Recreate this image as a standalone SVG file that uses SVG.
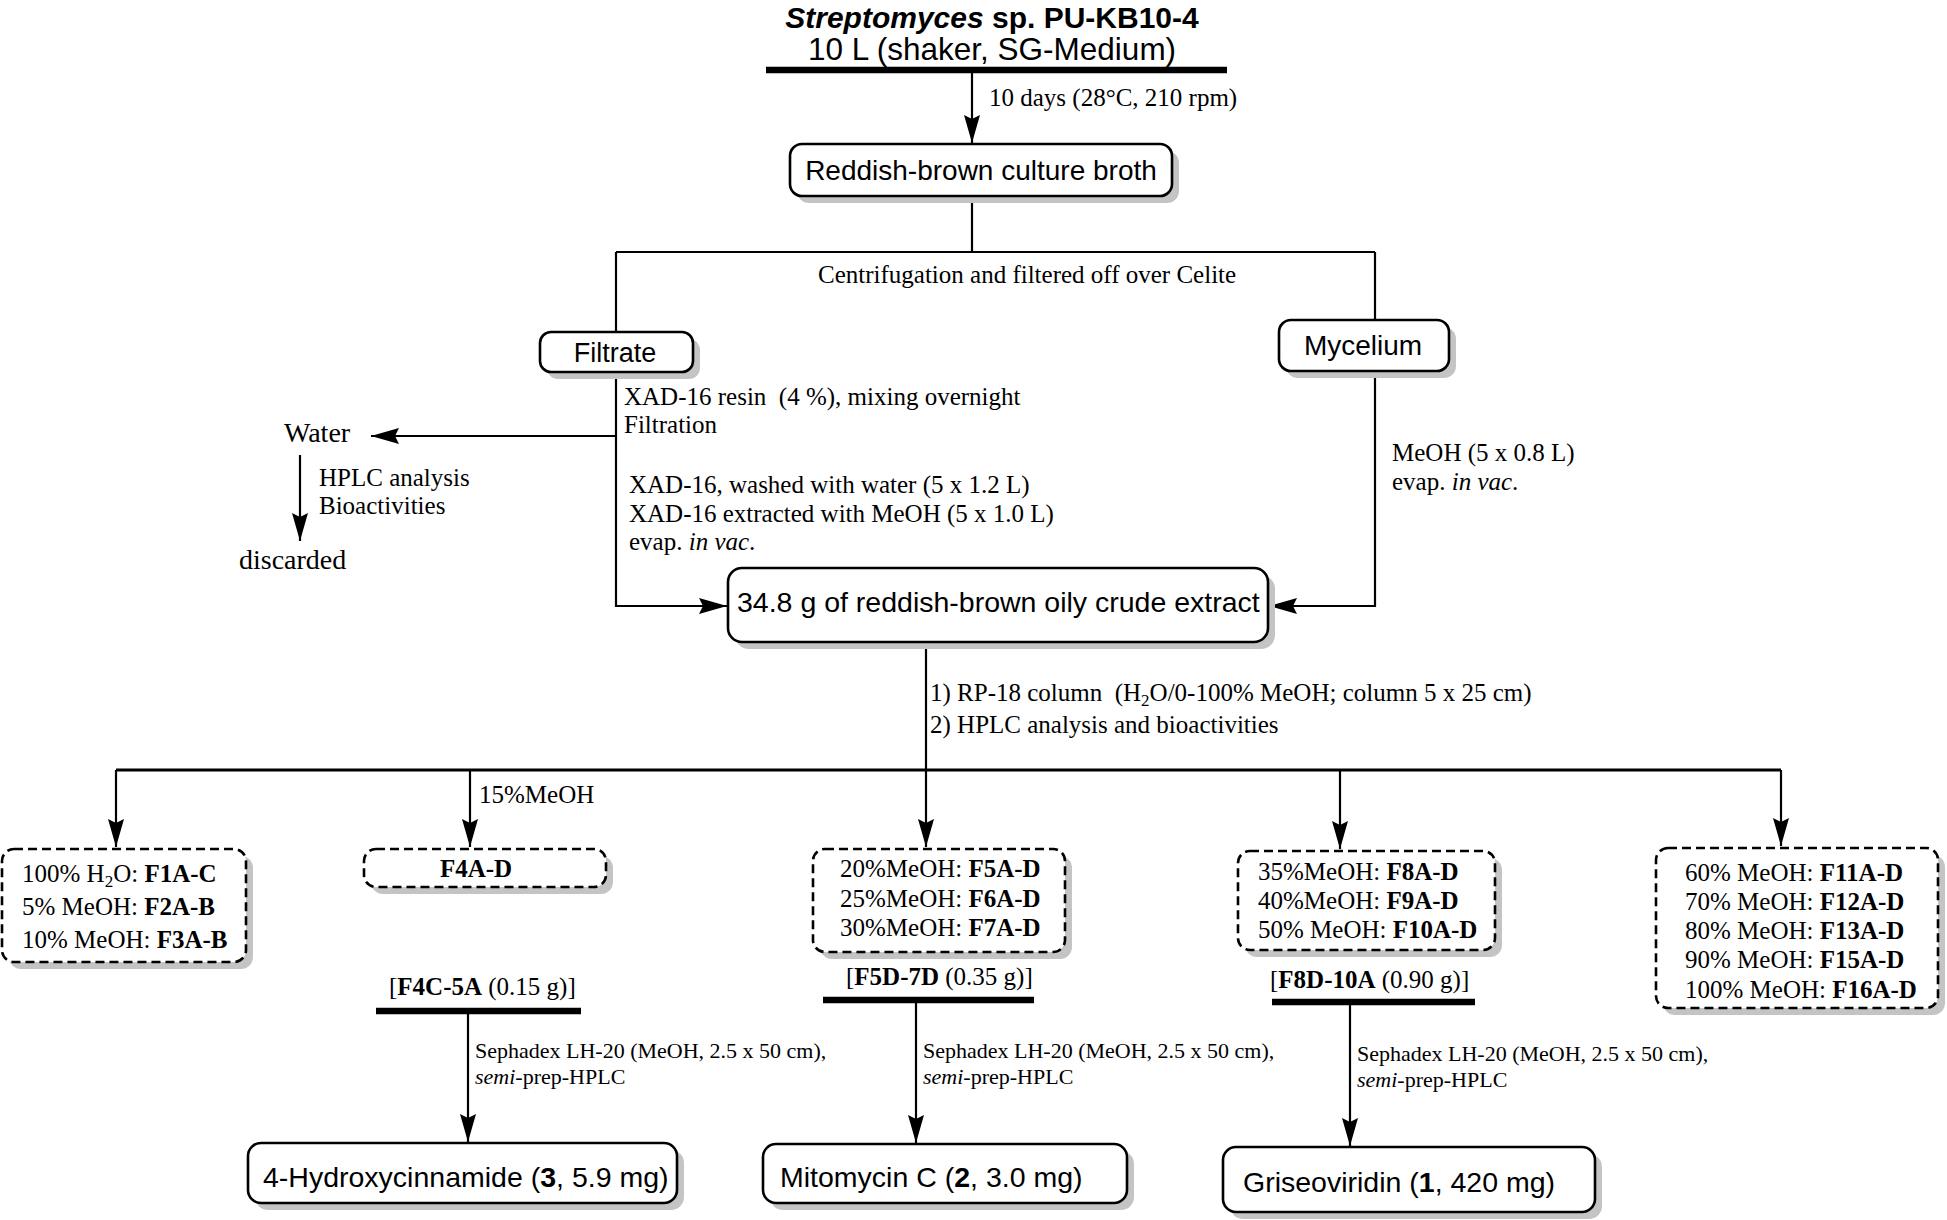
<svg xmlns="http://www.w3.org/2000/svg" width="1947" height="1220" viewBox="0 0 1947 1220">
<style>
.bg{fill:#ffffff}
.sh{fill:#c4c4c4;stroke:none}
.box{fill:#ffffff;stroke:#000;stroke-width:2.6}
.dbox{fill:#ffffff;stroke:#000;stroke-width:2.6;stroke-dasharray:9 5}
.ln{fill:none;stroke:#000;stroke-width:2.2}
.ln3{fill:none;stroke:#000;stroke-width:3}
.bar{fill:none;stroke:#000;stroke-width:6.5}
.arr{marker-end:url(#ah)}
.s{font-family:"Liberation Sans",Arial,Helvetica,sans-serif;fill:#000}
.t{font-family:"Liberation Serif","Times New Roman",serif;font-size:25px;fill:#000}
.tl{font-family:"Liberation Serif","Times New Roman",serif;font-size:28px;fill:#000}
.ts{font-family:"Liberation Serif","Times New Roman",serif;font-size:22px;fill:#000}
.b{font-weight:bold}
.i{font-style:italic}
</style>
<defs>
<marker id="ah" markerUnits="userSpaceOnUse" markerWidth="28" markerHeight="16" refX="28" refY="8" orient="auto">
<path d="M0,0 L28,8 L0,16 L4,8 Z" fill="#000"/>
</marker>
</defs>
<rect class="bg" x="0" y="0" width="1947" height="1220"/>

<g id="connectors">
<line class="bar" x1="766" y1="70" x2="1227" y2="70"/>
<line class="ln arr" x1="972" y1="73" x2="972" y2="143"/>
<line class="ln" x1="972" y1="196" x2="972" y2="252"/>
<line class="ln" x1="616" y1="252" x2="1375" y2="252"/>
<line class="ln" x1="616" y1="252" x2="616" y2="332"/>
<line class="ln" x1="1375" y1="252" x2="1375" y2="320"/>
<polyline class="ln arr" points="616,372 616,606 727,606"/>
<line class="ln arr" x1="616" y1="436" x2="371" y2="436"/>
<line class="ln arr" x1="300" y1="455" x2="300" y2="541"/>
<polyline class="ln arr" points="1375,371 1375,606 1269,606"/>
<line class="ln" x1="926" y1="642" x2="926" y2="770"/>
<line class="ln3" x1="116" y1="770" x2="1781" y2="770"/>
<line class="ln arr" x1="116" y1="770" x2="116" y2="847"/>
<line class="ln arr" x1="470" y1="770" x2="470" y2="847"/>
<line class="ln arr" x1="926" y1="770" x2="926" y2="847"/>
<line class="ln arr" x1="1340" y1="770" x2="1340" y2="849"/>
<line class="ln arr" x1="1781" y1="770" x2="1781" y2="846"/>
<line class="bar" x1="376" y1="1011" x2="581" y2="1011"/>
<line class="bar" x1="823" y1="1000" x2="1034" y2="1000"/>
<line class="bar" x1="1272" y1="1002" x2="1475" y2="1002"/>
<line class="ln arr" x1="468" y1="1011" x2="468" y2="1142"/>
<line class="ln arr" x1="916" y1="1000" x2="916" y2="1143"/>
<line class="ln arr" x1="1350" y1="1002" x2="1350" y2="1146"/>
</g>

<g id="labels">
<text class="t" x="989" y="106">10 days (28°C, 210 rpm)</text>
<text class="t" x="818" y="283">Centrifugation and filtered off over Celite</text>
<text class="t" x="624" y="405">XAD-16 resin&#160; (4 %), mixing overnight</text>
<text class="t" x="624" y="433">Filtration</text>
<text class="tl" x="284" y="442">Water</text>
<text class="t" x="319" y="486">HPLC analysis</text>
<text class="t" x="319" y="514">Bioactivities</text>
<text class="tl" x="239" y="569">discarded</text>
<text class="t" x="629" y="493">XAD-16, washed with water (5 x 1.2 L)</text>
<text class="t" x="629" y="522">XAD-16 extracted with MeOH (5 x 1.0 L)</text>
<text class="t" x="629" y="550">evap. <tspan class="i">in vac</tspan>.</text>
<text class="t" x="1392" y="461">MeOH (5 x 0.8 L)</text>
<text class="t" x="1392" y="490">evap. <tspan class="i">in vac</tspan>.</text>
<text class="t" x="930" y="701" font-size="25.3">1) RP-18 column&#160; (H<tspan dy="5" font-size="17">2</tspan><tspan dy="-5">O/0-100% MeOH; column 5 x 25 cm)</tspan></text>
<text class="t" x="930" y="733" font-size="25.3">2) HPLC analysis and bioactivities</text>
<text class="t" x="479" y="803">15%MeOH</text>
<text class="ts" x="475" y="1058">Sephadex LH-20 (MeOH, 2.5 x 50 cm),</text>
<text class="ts" x="475" y="1084"><tspan class="i">semi</tspan>-prep-HPLC</text>
<text class="ts" x="923" y="1058">Sephadex LH-20 (MeOH, 2.5 x 50 cm),</text>
<text class="ts" x="923" y="1084"><tspan class="i">semi</tspan>-prep-HPLC</text>
<text class="ts" x="1357" y="1061">Sephadex LH-20 (MeOH, 2.5 x 50 cm),</text>
<text class="ts" x="1357" y="1087"><tspan class="i">semi</tspan>-prep-HPLC</text>
</g>

<g id="title">
<text class="s b" x="992" y="28" font-size="30" text-anchor="middle"><tspan class="i">Streptomyces</tspan> sp. PU-KB10-4</text>
<text class="s" x="992" y="60" font-size="31.5" text-anchor="middle">10 L (shaker, SG-Medium)</text>
</g>

<g id="broth">
<rect class="sh" x="797" y="151" width="382" height="52" rx="12"/>
<rect class="box" x="790" y="144" width="382" height="52" rx="12"/>
<text class="s" x="981" y="180" font-size="28" text-anchor="middle">Reddish-brown culture broth</text>
</g>

<g id="filtrate">
<rect class="sh" x="547" y="339" width="153" height="40" rx="11"/>
<rect class="box" x="540" y="332" width="153" height="40" rx="11"/>
<text class="s" x="615" y="362" font-size="27" text-anchor="middle">Filtrate</text>
</g>

<g id="mycelium">
<rect class="sh" x="1286" y="327" width="170" height="51" rx="12"/>
<rect class="box" x="1279" y="320" width="170" height="51" rx="12"/>
<text class="s" x="1363" y="355" font-size="28" text-anchor="middle">Mycelium</text>
</g>

<g id="crude">
<rect class="sh" x="735" y="575" width="540" height="74" rx="14"/>
<rect class="box" x="728" y="568" width="540" height="74" rx="14"/>
<text class="s" x="737" y="612" font-size="28.5">34.8 g of reddish-brown oily crude extract</text>
</g>

<g id="frac1">
<rect class="sh" x="9" y="856" width="244" height="113" rx="12"/>
<rect class="dbox" x="2" y="849" width="244" height="113" rx="12"/>
<text class="t" x="22" y="882">100% H<tspan dy="5" font-size="17">2</tspan><tspan dy="-5">O: </tspan><tspan class="b">F1A-C</tspan></text>
<text class="t" x="22" y="915">5% MeOH: <tspan class="b">F2A-B</tspan></text>
<text class="t" x="22" y="948">10% MeOH: <tspan class="b">F3A-B</tspan></text>
</g>

<g id="frac2">
<rect class="sh" x="371" y="856" width="242" height="38" rx="12"/>
<rect class="dbox" x="364" y="849" width="242" height="38" rx="12"/>
<text class="t b" x="476" y="877" text-anchor="middle">F4A-D</text>
</g>

<g id="frac3">
<rect class="sh" x="820" y="856" width="252" height="103" rx="12"/>
<rect class="dbox" x="813" y="849" width="252" height="103" rx="12"/>
<text class="t" x="840" y="877">20%MeOH: <tspan class="b">F5A-D</tspan></text>
<text class="t" x="840" y="907">25%MeOH: <tspan class="b">F6A-D</tspan></text>
<text class="t" x="840" y="936">30%MeOH: <tspan class="b">F7A-D</tspan></text>
</g>

<g id="frac4">
<rect class="sh" x="1245" y="858" width="257" height="99" rx="12"/>
<rect class="dbox" x="1238" y="851" width="257" height="99" rx="12"/>
<text class="t" x="1258" y="880">35%MeOH: <tspan class="b">F8A-D</tspan></text>
<text class="t" x="1258" y="909">40%MeOH: <tspan class="b">F9A-D</tspan></text>
<text class="t" x="1258" y="938">50% MeOH: <tspan class="b">F10A-D</tspan></text>
</g>

<g id="frac5">
<rect class="sh" x="1663" y="855" width="282" height="160" rx="12"/>
<rect class="dbox" x="1656" y="848" width="282" height="160" rx="12"/>
<text class="t" x="1685" y="881">60% MeOH: <tspan class="b">F11A-D</tspan></text>
<text class="t" x="1685" y="910">70% MeOH: <tspan class="b">F12A-D</tspan></text>
<text class="t" x="1685" y="939">80% MeOH: <tspan class="b">F13A-D</tspan></text>
<text class="t" x="1685" y="968">90% MeOH: <tspan class="b">F15A-D</tspan></text>
<text class="t" x="1685" y="998">100% MeOH: <tspan class="b">F16A-D</tspan></text>
</g>

<g id="pool1">
<text class="t" x="389" y="995">[<tspan class="b">F4C-5A</tspan> (0.15 g)]</text>
</g>
<g id="pool2">
<text class="t" x="846" y="985">[<tspan class="b">F5D-7D</tspan> (0.35 g)]</text>
</g>
<g id="pool3">
<text class="t" x="1270" y="988">[<tspan class="b">F8D-10A</tspan> (0.90 g)]</text>
</g>

<g id="hydroxy">
<rect class="sh" x="255" y="1150" width="429" height="60" rx="13"/>
<rect class="box" x="248" y="1143" width="429" height="60" rx="13"/>
<text class="s" x="263" y="1187" font-size="28.5">4-Hydroxycinnamide (<tspan class="b">3</tspan>, 5.9 mg)</text>
</g>

<g id="mitomycin">
<rect class="sh" x="770" y="1151" width="364" height="59" rx="13"/>
<rect class="box" x="763" y="1144" width="364" height="59" rx="13"/>
<text class="s" x="780" y="1187" font-size="28.5">Mitomycin C (<tspan class="b">2</tspan>, 3.0 mg)</text>
</g>

<g id="griseo">
<rect class="sh" x="1230" y="1154" width="372" height="65" rx="13"/>
<rect class="box" x="1223" y="1147" width="372" height="65" rx="13"/>
<text class="s" x="1243" y="1192" font-size="28.5">Griseoviridin (<tspan class="b">1</tspan>, 420 mg)</text>
</g>
</svg>
